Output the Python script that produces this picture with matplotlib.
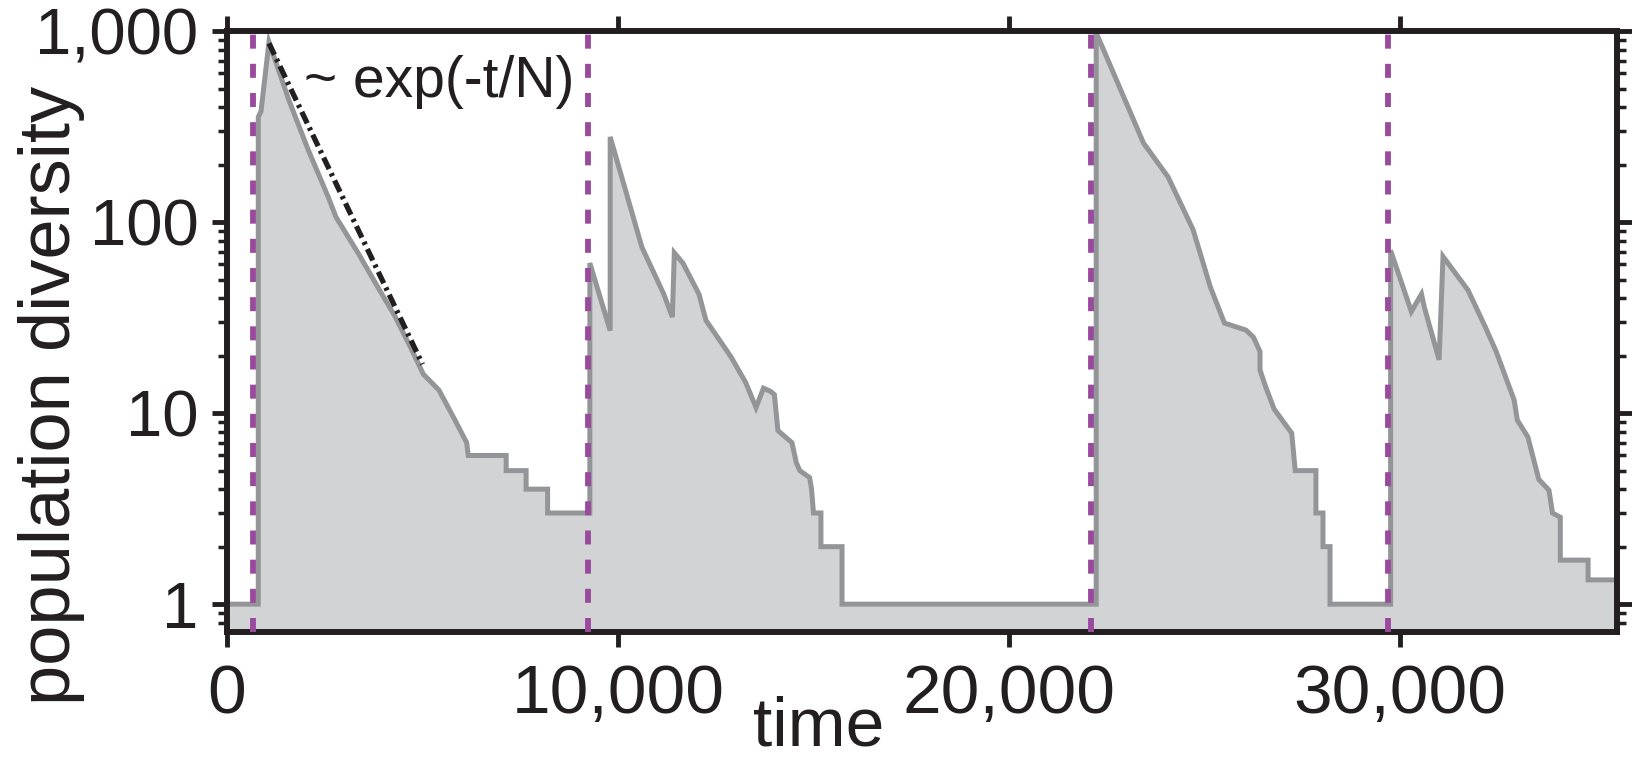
"""Population diversity through successive sweeps, log scale, with exp(-t/N) fit."""
import numpy as np
import matplotlib; matplotlib.use("Agg"); import matplotlib.pyplot as plt
from matplotlib.ticker import LogLocator, NullFormatter
plt.rcParams.update({"font.family": ["Liberation Sans", "DejaVu Sans"]})

# traced curve (time, diversity)
time = [0, 800, 800, 870, 1074, 1580, 2080, 2590, 2790, 3350, 3903, 4300, 4700, 5020, 5420,
        5830, 6130, 6170, 7140, 7140, 7650, 7650, 8200, 8200, 9280,
        9280, 9800, 9800, 10610, 11170, 11390, 11440, 11660, 12070, 12250, 12890, 13270,
        13530, 13720, 13900, 14000, 14090, 14450, 14560, 14650, 14900, 14950, 15000,
        15190, 15190, 15730, 15730, 22230,
        22230, 23440, 24070, 24710, 25150, 25510, 26060, 26250, 26420, 26420, 26550,
        26780, 27230, 27320, 27850, 27850, 28030, 28030, 28210, 28210, 29760,
        29760, 30290, 30550, 30620, 31000, 31100, 31740, 32190, 32460, 32920, 33000,
        33270, 33550, 33810, 33900, 34100, 34100, 34810, 34810, 35550]
diversity = [1, 1, 355, 380, 875, 436, 238, 135, 106, 69, 44, 32, 22, 16, 13.2,
             9.2, 7.0, 6, 6, 5, 5, 4, 4, 3, 3,
             61, 27, 279, 74, 42, 31.8, 69, 61, 42, 30.6, 19.7, 14.4,
             10.7, 13.5, 13, 12.5, 8.1, 7.0, 5.5, 5, 4.6, 4, 3,
             3, 2, 2, 1, 1,
             980, 259, 172, 91, 45.7, 29.6, 27.2, 25, 21, 16.8, 14,
             10.5, 7.86, 5, 5, 3, 3, 2, 2, 1, 1,
             71, 34, 42, 36, 19, 66, 44, 28, 21, 11.7, 9.2,
             7.5, 4.5, 3.95, 3, 2.85, 1.7, 1.7, 1.34, 1.34]
sweeps = [665, 9230, 22110, 29690]
fit_t = [1074, 5000]
fit_d = [862, 18]
yticks = [1, 10, 100, 1000]; ylabels = ["1", "10", "100", "1,000"]
xticks = [0, 10000, 20000, 30000]; xlabels = ["0", "10,000", "20,000", "30,000"]

K = "#231f20"
fig = plt.figure(figsize=(16.33, 7.62), dpi=100)
ax = fig.add_axes([227/1633, 1-632/762, 1390/1633, 601/762])
ax.set_yscale("log")
ax.fill_between(time, diversity, 0.1, color="#d1d3d4", lw=0, zorder=1)
ax.plot(time, diversity, color="#939598", lw=3.6, zorder=2, solid_joinstyle="miter")
for s in sweeps:
    ax.axvline(s, color="#9a4a9d", lw=4.2, ls=(0, (2.4, 2.6)), zorder=3)
ax.plot(fit_t, fit_d, color=K, lw=3.8, ls=(0, (2.4, 0.9, 0.6, 0.9)), zorder=4)
ax.text(1969, 451, "~ exp(-t/N)", fontsize=41, ha="left", va="baseline", color=K, zorder=5)

ax.set_xlim(0, 35550); ax.set_ylim(0.715, 1000)
ax.set_xticks(xticks, xlabels); ax.set_yticks(yticks, ylabels)
ax.yaxis.set_minor_locator(LogLocator(base=10, subs=np.arange(2, 10)))
ax.yaxis.set_minor_formatter(NullFormatter())
for sp in ax.spines.values(): sp.set_linewidth(4.3); sp.set_color(K)
ax.tick_params(which="both", direction="out", top=True, right=True, color=K, labelcolor=K)
ax.tick_params(which="major", length=10.5, width=3.5)
ax.tick_params(which="minor", length=6.5, width=2.5)
ax.tick_params(axis="y", labelsize=47, pad=10)
ax.tick_params(axis="x", labelsize=50, pad=12)
ax.set_xlabel("time", fontsize=50, color=K); ax.xaxis.set_label_coords(0.426, -0.106)
ax.set_ylabel("population diversity", fontsize=52, color=K); ax.yaxis.set_label_coords(-0.102, 0.394)
fig.savefig("out.png", dpi=100)
